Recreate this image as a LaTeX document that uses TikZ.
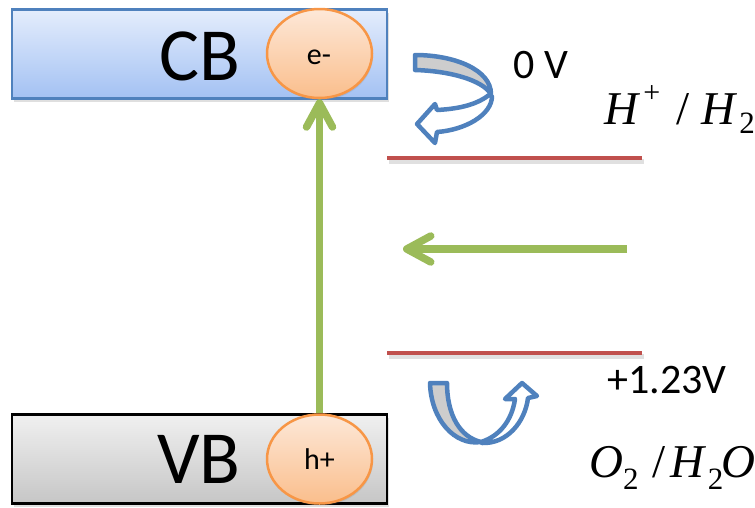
\documentclass[tikz,border=0pt]{standalone}
\usepackage{fontspec}
\setmainfont{Carlito}
\newfontfamily\tnr{Liberation Serif}
\usetikzlibrary{shapes.geometric,arrows.meta,shadows}
\definecolor{bandblue}{RGB}{79,129,189}
\definecolor{cbtop}{RGB}{228,237,252}
\definecolor{cbbot}{RGB}{163,193,243}
\definecolor{vbtop}{RGB}{240,240,240}
\definecolor{vbbot}{RGB}{198,198,198}
\definecolor{balltop}{RGB}{253,232,216}
\definecolor{ballbot}{RGB}{250,190,140}
\definecolor{ballline}{RGB}{247,150,70}
\definecolor{lvlgreen}{RGB}{155,187,89}
\definecolor{lvlred}{RGB}{192,80,77}
\definecolor{bandgray}{RGB}{205,205,205}
\tikzset{
  bandbox/.style={rectangle, minimum width=375pt, minimum height=89pt, inner sep=0pt, line width=2.5pt,
    drop shadow={shadow xshift=2pt, shadow yshift=-3pt, opacity=0.25}},
  cbbox/.style={bandbox, draw=bandblue, top color=cbtop, bottom color=cbbot},
  vbbox/.style={bandbox, draw=black, top color=vbtop, bottom color=vbbot},
  ball/.style={ellipse, minimum width=105pt, minimum height=89pt, inner sep=0pt, line width=2.5pt,
    draw=ballline, top color=balltop, bottom color=ballbot,
    drop shadow={shadow xshift=1pt, shadow yshift=-2pt, opacity=0.2},
    font=\fontsize{30}{30}\selectfont},
  bigtxt/.style={font=\fontsize{75}{75}\selectfont, inner sep=0pt},
  valtxt/.style={font=\fontsize{42}{42}\selectfont, inner sep=0pt},
  redoxtxt/.style={font=\tnr\fontsize{47}{47}\selectfont, inner sep=0pt, anchor=base west},
  greenarrow/.style={draw=lvlgreen, line width=7.5pt, -{Straight Barb[length=24pt,width=26pt,round]}},
  redline/.style={draw=lvlred, line width=4pt},
  redshadow/.style={draw=black, opacity=0.12, line width=5pt},
  curvearrow/.style={draw=bandblue, line width=4.5pt, line join=round},
}
\begin{document}
\begin{tikzpicture}[x=1pt,y=-1pt]
\useasboundingbox (0,0) rectangle (755,507);
% bands
\node[cbbox] (cb) at (199.5,54) {};
\node[vbbox] (vb) at (199.5,459) {};
\node[bigtxt] (cbt) at (200,56) {CB};
\node[bigtxt] (vbt) at (199,459.5) {VB};
% carriers
\node[ball] (e) at (319.5,53.5) {};
\node[inner sep=0pt, font=\fontsize{30}{30}\selectfont] (et) at (319,57) {e-};
\node[ball] (h) at (319.5,459) {h+};
% excitation arrow
\draw[greenarrow] (h.north) -- (e.south);
% redox levels
\coordinate (r1a) at (387,158);
\coordinate (r1b) at (642,158);
\coordinate (r2a) at (387,353);
\coordinate (r2b) at (642,353);
\draw[redshadow] ([shift={(2,3)}]r1a) -- ([shift={(2,3)}]r1b);
\draw[redshadow] ([shift={(2,3)}]r2a) -- ([shift={(2,3)}]r2b);
\draw[redline] (r1a) -- (r1b);
\draw[redline] (r2a) -- (r2b);
% horizontal arrow
\coordinate (g1) at (627,249);
\coordinate (g2) at (403,249);
\draw[greenarrow] (g1) -- (g2);
% labels
\node[valtxt] (v0) at (541,65.5) {0 V};
\node[valtxt] (v1) at (667,380) {+1.23V};
\node[redoxtxt] (hh) at (604,124) {\textit{H}\hspace{3pt}\raisebox{22pt}{\fontsize{30}{30}\selectfont +}\hspace{16pt}/\hspace{12pt}\textit{H}\hspace{2pt}\raisebox{-9pt}{\fontsize{31}{31}\selectfont 2}};
\node[redoxtxt] (oo) at (589,477) {\textit{O}\raisebox{-12pt}{\fontsize{31}{31}\selectfont 2}\hspace{14pt}/\hspace{5pt}\textit{H}\hspace{1pt}\raisebox{-12pt}{\fontsize{31}{31}\selectfont 2}\hspace{-2pt}\textit{O}};
% top curved arrow (reduction)
\draw[curvearrow, fill=white] (489,95) .. controls (475,106) and (455,109) .. (437,110)
  -- (435,104) -- (417,124) -- (435,143) -- (437,132)
  .. controls (465,130) and (492,115) .. (492,96) -- cycle;
\draw[curvearrow, fill=bandgray] (415,55) .. controls (455,55) and (491,70) .. (491,94)
  .. controls (482,80) and (450,71) .. (415,70) -- cycle;
% bottom curved arrow (oxidation)
\draw[curvearrow, fill=white] (481,442) .. controls (500,436) and (512,420) .. (515,399)
  -- (505,399) -- (522,383) -- (537,396) -- (528,398)
  .. controls (525,422) and (507,444) .. (482,443) -- cycle;
\draw[curvearrow, fill=bandgray] (430,383) -- (447,383) .. controls (447,415) and (460,437) .. (481,442)
  .. controls (455,446) and (431,420) .. (430,383) -- cycle;
\end{tikzpicture}
\end{document}
